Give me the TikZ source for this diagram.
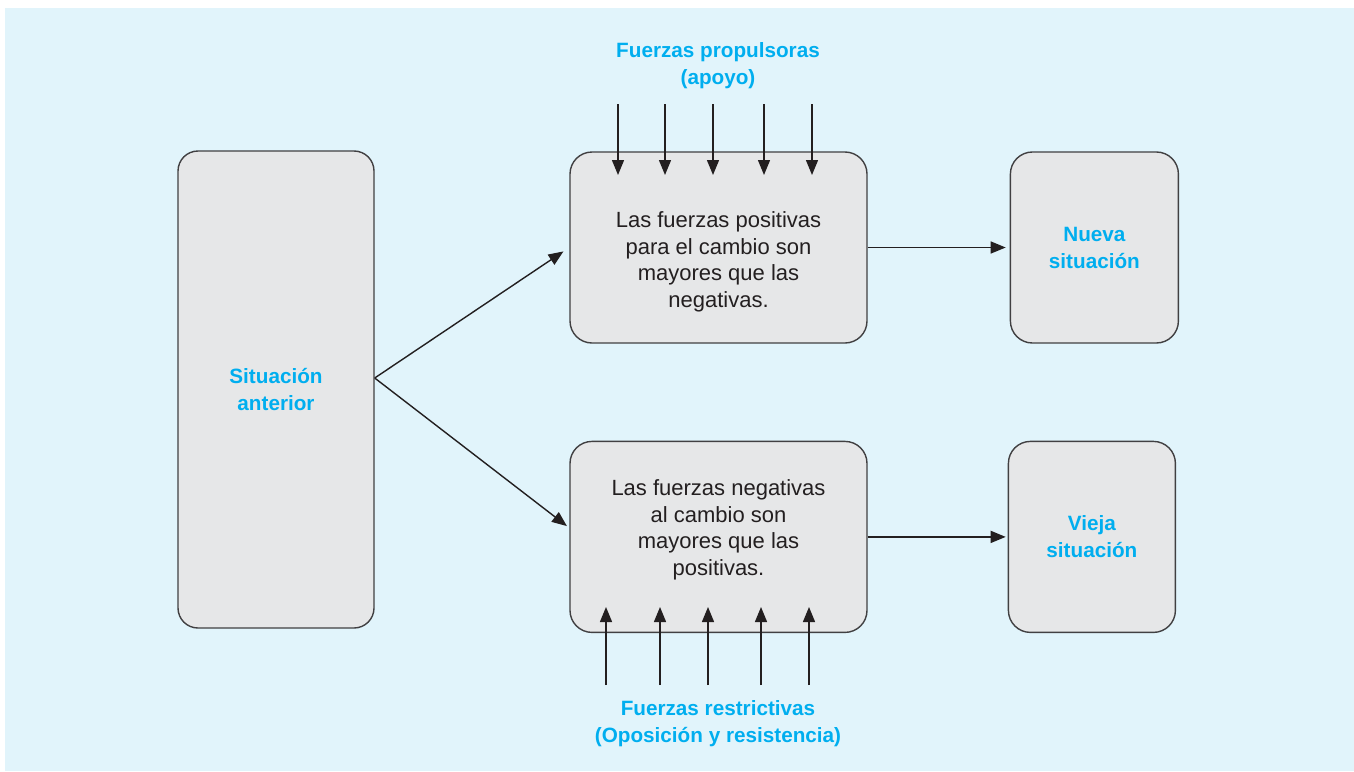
\documentclass[tikz,border=0pt]{standalone}
\usepackage{fontspec}
\setmainfont{Liberation Sans}
\usepackage{xcolor}
\usepackage{tikz}
\usetikzlibrary{positioning, arrows.meta}

\definecolor{bgblue}{HTML}{E1F4FB}
\definecolor{boxgray}{HTML}{E6E7E8}
\definecolor{edgegray}{HTML}{414042}
\definecolor{titlecyan}{HTML}{00AEEF}
\definecolor{inkblack}{HTML}{231F20}

\begin{document}
\begin{tikzpicture}[
    x=1pt, y=-1pt,
    node distance=97pt and 142pt,
    >={Triangle[length=15pt,width=12pt]},
    stage/.style={
        rectangle, rounded corners=22pt,
        draw=edgegray, line width=1.4pt,
        fill=boxgray,
        minimum height=191pt, inner sep=0pt
    },
    bodytext/.style={
        align=center, text=inkblack,
        font=\fontsize{22}{26.5}\selectfont
    },
    headline/.style={
        align=center, text=titlecyan,
        font=\fontsize{20.7}{27}\selectfont\bfseries
    },
    arrow/.style={->, line width=1.4pt, draw=inkblack},
]

% ---------- Frame ----------
\useasboundingbox (0,0) rectangle (1354,771);
\fill[bgblue] (5,8) rectangle (1354,771);

% ---------- Old situation ----------
\node[stage, headline, rounded corners=20pt, minimum width=196pt, minimum height=477pt]
    (anterior) at (276,389.5) {Situación\\anterior};

% ---------- Positive / negative forces ----------
\node[stage, minimum width=297pt] (pos) at (718.5,247.5) {};
\node[stage, minimum width=297pt, below=of pos] (neg) {};

\node[bodytext] (postext) at ([yshift=-14.5pt]pos.center)
    {Las fuerzas positivas\\para el cambio son\\mayores que las\\negativas.};
\node[bodytext] (negtext) at ([yshift=7pt]neg.center)
    {Las fuerzas negativas\\al cambio son\\mayores que las\\positivas.};

% ---------- Outcomes ----------
\node[stage, headline, minimum width=168pt, right=of pos] (nueva) {Nueva\\situación};
\node[stage, headline, minimum width=167pt, right=140pt of neg] (vieja) {Vieja\\situación};

% ---------- Force labels ----------
\node[headline] (pushlabel) at (718,65.5) {Fuerzas propulsoras\\(apoyo)};
\node[headline] (pulllabel) at (718,723.5) {Fuerzas restrictivas\\(Oposición y resistencia)};

% ---------- Arrows ----------
\draw[arrow, shorten >=7pt] ([yshift=11.5pt]anterior.east) -- (pos.west);
\draw[arrow, shorten >=3pt] ([yshift=11.5pt]anterior.east) -- ([yshift=9pt]neg.west);

\draw[arrow, shorten >=4pt] (pos.east) -- (nueva.west);
\draw[arrow, shorten >=2pt] (neg.east |- vieja.west) -- (vieja.west);

\foreach \x [count=\i] in {618,665,713,764,812} {
    \coordinate (push\i) at (\x,104);
    \coordinate (pushtip\i) at (\x,175);
    \draw[arrow] (push\i) -- (pushtip\i);
}
\foreach \x [count=\i] in {606,660,708,761,809} {
    \coordinate (pull\i) at (\x,685);
    \coordinate (pulltip\i) at (\x,607);
    \draw[arrow] (pull\i) -- (pulltip\i);
}

\end{tikzpicture}
\end{document}
